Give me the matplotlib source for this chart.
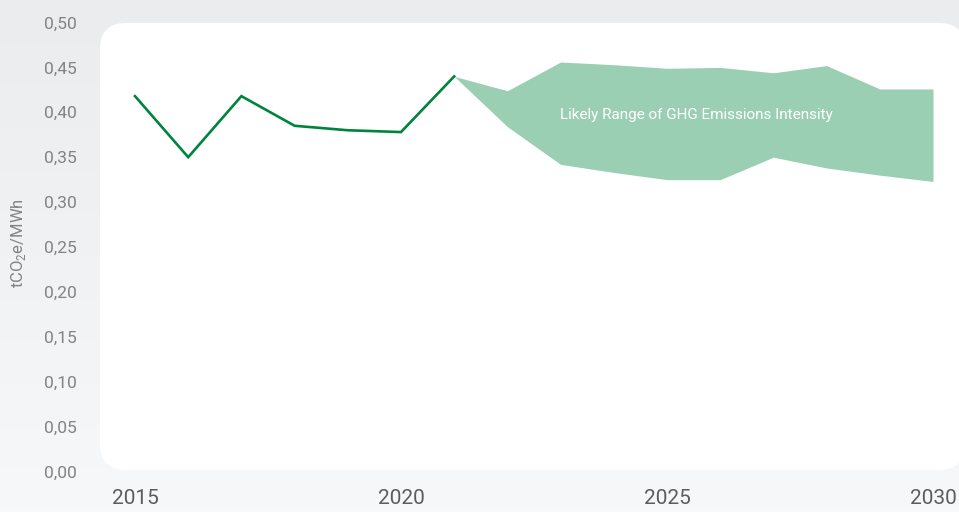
import matplotlib
matplotlib.use("Agg")
import matplotlib.pyplot as plt
import numpy as np
from matplotlib.patches import FancyBboxPatch
from matplotlib.colors import LinearSegmentedColormap

plt.rcParams['font.family'] = ['Roboto', 'DejaVu Sans']

# Data
hist_years = [2015, 2016, 2017, 2018, 2019, 2020, 2021]
hist_values = [0.418, 0.350, 0.418, 0.385, 0.380, 0.378, 0.440]

range_years = [2021, 2022, 2023, 2024, 2025, 2026, 2027, 2028, 2029, 2030]
range_upper = [0.440, 0.424, 0.456, 0.453, 0.449, 0.450, 0.444, 0.452, 0.426, 0.426]
range_lower = [0.440, 0.384, 0.342, 0.333, 0.325, 0.325, 0.350, 0.338, 0.330, 0.323]

y_ticks = [0.00, 0.05, 0.10, 0.15, 0.20, 0.25, 0.30, 0.35, 0.40, 0.45, 0.50]
y_tick_labels = ['0,00', '0,05', '0,10', '0,15', '0,20', '0,25', '0,30', '0,35', '0,40', '0,45', '0,50']
x_ticks = [2015, 2020, 2025, 2030]
x_tick_labels = ['2015', '2020', '2025', '2030']
range_label = 'Likely Range of GHG Emissions Intensity'
y_label = r'tCO$_\mathregular{2}$e/MWh'

W, H = 959, 512
fig = plt.figure(figsize=(W / 100, H / 100), dpi=100)

# background gradient
bg = fig.add_axes([0, 0, 1, 1], zorder=0)
grad = np.linspace(0, 1, 256).reshape(-1, 1)
cmap = LinearSegmentedColormap.from_list('bg', ['#ebecee', '#f6f8f9'])
bg.imshow(grad, aspect='auto', cmap=cmap, extent=[0, 1, 0, 1], origin='upper')
bg.set_xlim(0, 1)
bg.set_ylim(0, 1)
bg.axis('off')

# white rounded panel
px = lambda v: v / W
py = lambda v: v / H
panel = FancyBboxPatch((px(100), py(512 - 470)), px(865), py(447),
                       boxstyle="round,pad=0,rounding_size=0.027",
                       mutation_aspect=W / H,
                       transform=fig.transFigure, facecolor='white',
                       edgecolor='none', zorder=1)
fig.patches.append(panel)

# main axes
x0px, x_per_year = 135.0, 53.2
ax_left_px, ax_right_px = 100, 959
y_bottom_px, y_top_px = 471.5, 22.5
ax = fig.add_axes([ax_left_px / W, (H - y_bottom_px) / H,
                   (ax_right_px - ax_left_px) / W, (y_bottom_px - y_top_px) / H], zorder=2)
ax.set_facecolor('none')
ax.set_xlim(2015 - (x0px - ax_left_px) / x_per_year, 2015 + (ax_right_px - x0px) / x_per_year)
ax.set_ylim(0, 0.5)

ax.fill_between(range_years, range_lower, range_upper, color='#9acfb4', linewidth=0, zorder=2)
ax.plot(hist_years, hist_values, color='#00843d', linewidth=1.9, zorder=3,
        solid_joinstyle='miter')
ax.text(2025.56, 0.397, range_label, color='white', fontsize=11, ha='center', va='center', zorder=4)

for s in ax.spines.values():
    s.set_visible(False)
ax.set_yticks(y_ticks)
ax.set_yticklabels(y_tick_labels, fontsize=12.5, color='#818388')
ax.set_xticks(x_ticks)
ax.set_xticklabels(x_tick_labels, fontsize=15, color='#5a5c60')
ax.tick_params(axis='y', length=0, pad=17)
ax.tick_params(axis='x', length=0, pad=12.5)

fig.text(19 / W, 1 - 243 / H, y_label, rotation=90, fontsize=12, color='#818388',
         ha='center', va='center')

fig.savefig('out.png', dpi=100)
